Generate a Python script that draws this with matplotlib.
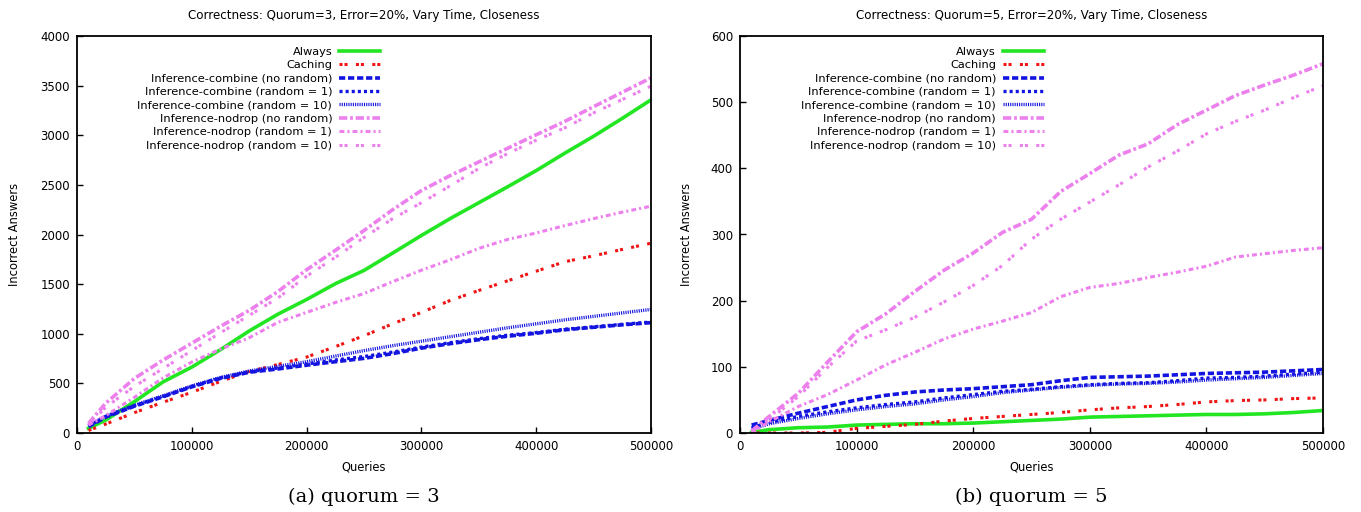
import numpy as np
import matplotlib
matplotlib.use("Agg")
import matplotlib.pyplot as plt

plt.rcParams['lines.scale_dashes'] = False
plt.rcParams['font.family'] = ['DejaVu Sans']

# --- data ---
queries = [10000, 25000, 50000, 75000, 100000, 125000, 150000, 175000, 200000, 225000,
           250000, 275000, 300000, 325000, 350000, 375000, 400000, 425000, 450000, 475000, 500000]

labels = ['Always', 'Caching',
          'Inference-combine (no random)', 'Inference-combine (random = 1)',
          'Inference-combine (random = 10)', 'Inference-nodrop (no random)',
          'Inference-nodrop (random = 1)', 'Inference-nodrop (random = 10)']

# quorum = 3
q3_always = [47, 130, 316, 515, 664, 840, 1028, 1197, 1345, 1504, 1638, 1813, 1990, 2160, 2320, 2480, 2644, 2820, 2990, 3170, 3357]
q3_caching = [25, 90, 205, 310, 410, 520, 620, 690, 765, 870, 980, 1100, 1215, 1335, 1436, 1533, 1630, 1726, 1785, 1850, 1912]
q3_comb_norand = [64, 160, 270, 365, 465, 550, 612, 645, 683, 718, 752, 800, 855, 900, 940, 975, 1005, 1040, 1065, 1090, 1112]
q3_comb_r1 = [70, 165, 275, 370, 470, 555, 618, 655, 695, 735, 770, 815, 865, 910, 950, 985, 1012, 1045, 1070, 1095, 1118]
q3_comb_r10 = [75, 170, 280, 375, 475, 560, 625, 672, 718, 775, 830, 880, 925, 970, 1015, 1060, 1100, 1140, 1175, 1210, 1245]
q3_nodrop_norand = [97, 300, 550, 735, 905, 1075, 1235, 1425, 1645, 1840, 2040, 2250, 2443, 2593, 2731, 2868, 3005, 3140, 3288, 3433, 3578]
q3_nodrop_r1 = [80, 175, 360, 555, 715, 845, 960, 1115, 1215, 1315, 1405, 1525, 1640, 1745, 1860, 1950, 2015, 2090, 2160, 2225, 2285]
q3_nodrop_r10 = [80, 260, 470, 650, 830, 1010, 1185, 1360, 1580, 1770, 1970, 2160, 2320, 2490, 2665, 2815, 2950, 3075, 3225, 3360, 3495]

# quorum = 5
q5_always = [1, 5, 8, 9, 12, 13, 14, 14, 15, 17, 19, 21, 24, 25, 26, 27, 28, 28, 29, 31, 34]
q5_caching = [0, 0, 0, 1, 7, 10, 13, 18, 22, 25, 28, 31, 35, 38, 40, 43, 47, 49, 50, 52, 53]
q5_comb_norand = [12, 19, 30, 40, 50, 57, 62, 65, 67, 70, 73, 79, 84, 85, 86, 88, 90, 91, 92, 94, 96]
q5_comb_r1 = [8, 16, 25, 32, 38, 43, 47, 53, 58, 63, 66, 70, 73, 75, 76, 79, 83, 84, 86, 89, 92]
q5_comb_r10 = [6, 14, 22, 29, 35, 40, 44, 50, 55, 61, 65, 69, 72, 74, 75, 77, 80, 82, 84, 87, 90]
q5_nodrop_norand = [3, 25, 60, 107, 153, 180, 214, 246, 272, 303, 323, 365, 392, 420, 437, 466, 488, 510, 526, 541, 558]
q5_nodrop_r1 = [0, 17, 40, 58, 80, 103, 122, 142, 157, 169, 182, 206, 220, 226, 235, 243, 252, 266, 271, 276, 280]
q5_nodrop_r10 = [2, 20, 55, 99, 139, 156, 175, 198, 223, 253, 293, 323, 349, 375, 402, 426, 452, 471, 488, 507, 525]

# --- styles ---
green = '#22e622'
red = '#f01414'
blue = '#1414e0'
pink = '#ec80ec'
styles = [
    dict(color=green, lw=2.6, ls='-'),
    dict(color=red, lw=2.2, ls=(0, (2.2, 1.4, 2.2, 6.0))),
    dict(color=blue, lw=2.6, ls=(0, (4.5, 2.0))),
    dict(color=blue, lw=2.4, ls=(0, (2.2, 2.2))),
    dict(color=blue, lw=2.4, ls=(0, (0.8, 0.8))),
    dict(color=pink, lw=2.6, ls=(0, (6.0, 2.0, 2.0, 2.0))),
    dict(color=pink, lw=2.2, ls=(0, (3.5, 2.2, 1.5, 2.2))),
    dict(color=pink, lw=2.2, ls=(0, (2.2, 1.4, 2.2, 6.0))),
]

fig = plt.figure(figsize=(13.61, 5.12), dpi=100)
ax1 = fig.add_axes([77/1361, 1-433/512, 574/1361, 397/512])
ax2 = fig.add_axes([740/1361, 1-433/512, 583/1361, 397/512])

panels = [
    (ax1, [q3_always, q3_caching, q3_comb_norand, q3_comb_r1, q3_comb_r10,
           q3_nodrop_norand, q3_nodrop_r1, q3_nodrop_r10], 3, 4000, 500, 0.528, -(77 - 21) / 574),
    (ax2, [q5_always, q5_caching, q5_comb_norand, q5_comb_r1, q5_comb_r10,
           q5_nodrop_norand, q5_nodrop_r1, q5_nodrop_r10], 5, 600, 100, 0.521, -(740 - 693) / 583),
]

for ax, series, quorum, ymax, ystep, leg_x, ylab_x in panels:
    for vals, lab, st in zip(series, labels, styles):
        ax.plot(queries, vals, label=lab, color=st['color'], lw=st['lw'], ls=st['ls'])
    ax.set_xlim(0, 500000)
    ax.set_ylim(0, ymax)
    ax.set_xticks(np.arange(0, 500001, 100000))
    ax.set_yticks(np.arange(0, ymax + 1, ystep))
    ax.ticklabel_format(style='plain')
    ax.tick_params(direction='in', length=4, width=1, labelsize=8.5, pad=5)
    for sp in ax.spines.values():
        sp.set_linewidth(1.3)
    ax.set_title(f'Correctness: Quorum={quorum}, Error=20%, Vary Time, Closeness',
                 fontsize=8.6, pad=12)
    ax.set_xlabel('Queries', fontsize=8.3)
    ax.set_ylabel('Incorrect Answers', fontsize=8.3)
    ax.xaxis.set_label_coords(0.5, -0.07)
    ax.yaxis.set_label_coords(ylab_x, 0.5)
    ax.legend(loc='upper right', bbox_to_anchor=(leg_x, 0.973), frameon=False,
              markerfirst=False, handlelength=3.6, handletextpad=0.6,
              labelspacing=0.3, borderpad=0, borderaxespad=0, fontsize=8.2)

fig.text(364/1361, 1-497/512, '(a) quorum = 3', ha='center', va='center',
         fontsize=14, family='DejaVu Serif')
fig.text(1031/1361, 1-497/512, '(b) quorum = 5', ha='center', va='center',
         fontsize=14, family='DejaVu Serif')

fig.savefig('out.png', dpi=100)
